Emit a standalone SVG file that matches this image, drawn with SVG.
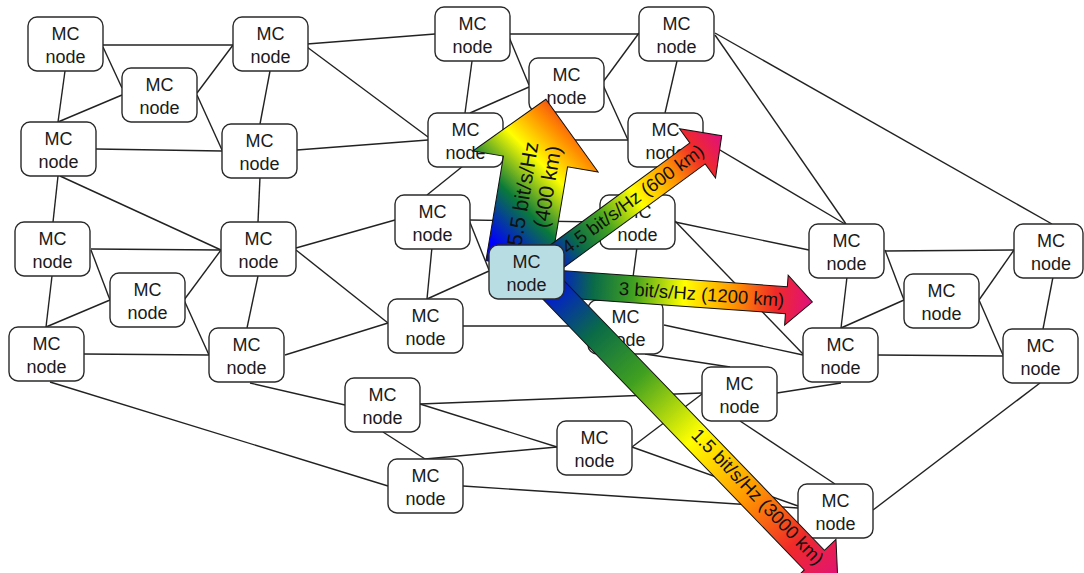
<svg xmlns="http://www.w3.org/2000/svg" width="1084" height="573" viewBox="0 0 1084 573">
<style>
.n{fill:#fff;stroke:#2a2a2a;stroke-width:1.4}
.q{fill:#b8dde3;stroke:#2a2a2a;stroke-width:1.4}
.t{font-family:"Liberation Sans",Arial,sans-serif;font-size:18px;fill:#1a1a1a;text-anchor:middle}
.e line{stroke:#222;stroke-width:1.4}
.a{stroke:#111;stroke-width:1}
.at{font-family:"Liberation Sans",Arial,sans-serif;font-size:18.5px;fill:#111;text-anchor:middle}
</style>
<defs>
<linearGradient id="gl" x1="0" y1="0" x2="1" y2="0">
<stop offset="0" stop-color="#0000ff"/>
<stop offset="0.18" stop-color="#0a6a48"/>
<stop offset="0.33" stop-color="#40a020"/>
<stop offset="0.52" stop-color="#ffff00"/>
<stop offset="0.7" stop-color="#ff9a00"/>
<stop offset="0.86" stop-color="#f02a28"/>
<stop offset="1" stop-color="#e0107e"/>
</linearGradient>
<linearGradient id="gu" gradientUnits="userSpaceOnUse" x1="29" y1="-43" x2="156" y2="47">
<stop offset="0" stop-color="#0000ff"/>
<stop offset="0.3" stop-color="#0a7a3a"/>
<stop offset="0.58" stop-color="#ffff00"/>
<stop offset="0.8" stop-color="#ff8a00"/>
<stop offset="1" stop-color="#e82020"/>
</linearGradient>
</defs>
<rect width="1084" height="573" fill="#fff"/>
<g id="connectors" class="e">
<line x1="102" y1="45" x2="233" y2="45"/>
<line x1="103" y1="47" x2="122" y2="88"/>
<line x1="65" y1="71" x2="58" y2="122"/>
<line x1="197" y1="93" x2="233" y2="45"/>
<line x1="197" y1="95" x2="222" y2="150"/>
<line x1="122" y1="95" x2="58" y2="122"/>
<line x1="96" y1="149" x2="222" y2="151"/>
<line x1="270" y1="71" x2="260" y2="124"/>
<line x1="307" y1="44" x2="435" y2="34"/>
<line x1="307" y1="47" x2="428" y2="137"/>
<line x1="297" y1="150" x2="428" y2="140"/>
<line x1="60" y1="176" x2="221" y2="250"/>
<line x1="58" y1="176" x2="53" y2="222"/>
<line x1="260" y1="177" x2="258" y2="222"/>
<line x1="91" y1="249" x2="221" y2="250"/>
<line x1="91" y1="250" x2="110" y2="300"/>
<line x1="52" y1="276" x2="46" y2="327"/>
<line x1="110" y1="300" x2="46" y2="327"/>
<line x1="184" y1="300" x2="221" y2="250"/>
<line x1="184" y1="300" x2="209" y2="355"/>
<line x1="258" y1="276" x2="247" y2="328"/>
<line x1="84" y1="354" x2="209" y2="355"/>
<line x1="296" y1="248" x2="395" y2="220"/>
<line x1="296" y1="250" x2="388" y2="323"/>
<line x1="285" y1="355" x2="388" y2="323"/>
<line x1="50" y1="382" x2="388" y2="486"/>
<line x1="250" y1="383" x2="345" y2="405"/>
<line x1="383" y1="432" x2="425" y2="459"/>
<line x1="420" y1="404" x2="557" y2="447"/>
<line x1="420" y1="404" x2="702" y2="393"/>
<line x1="425" y1="459" x2="557" y2="447"/>
<line x1="463" y1="486" x2="798" y2="508"/>
<line x1="632" y1="447" x2="798" y2="506"/>
<line x1="632" y1="447" x2="702" y2="394"/>
<line x1="740" y1="421" x2="835" y2="484"/>
<line x1="1040" y1="383" x2="873" y2="510"/>
<line x1="777" y1="393" x2="841" y2="383"/>
<line x1="645" y1="354" x2="730" y2="367"/>
<line x1="463" y1="326" x2="588" y2="326"/>
<line x1="664" y1="325" x2="803" y2="355"/>
<line x1="675" y1="221" x2="803" y2="354"/>
<line x1="675" y1="222" x2="809" y2="250"/>
<line x1="637" y1="247" x2="630" y2="300"/>
<line x1="469" y1="220" x2="600" y2="222"/>
<line x1="469" y1="220" x2="489" y2="270"/>
<line x1="432" y1="247" x2="427" y2="299"/>
<line x1="427" y1="299" x2="489" y2="271"/>
<line x1="463" y1="166" x2="427" y2="195"/>
<line x1="509" y1="34" x2="639" y2="34"/>
<line x1="509" y1="37" x2="529" y2="85"/>
<line x1="472" y1="61" x2="465" y2="113"/>
<line x1="529" y1="87" x2="470" y2="113"/>
<line x1="603" y1="82" x2="639" y2="33"/>
<line x1="603" y1="85" x2="628" y2="140"/>
<line x1="677" y1="61" x2="665" y2="113"/>
<line x1="503" y1="140" x2="628" y2="140"/>
<line x1="715" y1="35" x2="846" y2="224"/>
<line x1="715" y1="33" x2="1052" y2="224"/>
<line x1="703" y1="140" x2="845" y2="224"/>
<line x1="885" y1="250" x2="904" y2="300"/>
<line x1="885" y1="251" x2="1014" y2="250"/>
<line x1="847" y1="277" x2="841" y2="328"/>
<line x1="904" y1="300" x2="841" y2="328"/>
<line x1="979" y1="300" x2="1014" y2="250"/>
<line x1="979" y1="300" x2="1003" y2="355"/>
<line x1="1053" y1="277" x2="1043" y2="329"/>
<line x1="878" y1="355" x2="1003" y2="356"/>
</g>
<g id="node-A"><rect class="n" x="28" y="17" width="75" height="54" rx="9"/><text class="t" x="65.5" y="39.5">MC<tspan x="65.5" dy="23.2">node</tspan></text></g>
<g id="node-B"><rect class="n" x="122" y="68" width="75" height="54" rx="9"/><text class="t" x="159.5" y="90.5">MC<tspan x="159.5" dy="23.2">node</tspan></text></g>
<g id="node-C"><rect class="n" x="233" y="17" width="75" height="54" rx="9"/><text class="t" x="270.5" y="39.5">MC<tspan x="270.5" dy="23.2">node</tspan></text></g>
<g id="node-D"><rect class="n" x="21" y="122" width="75" height="54" rx="9"/><text class="t" x="58.5" y="144.5">MC<tspan x="58.5" dy="23.2">node</tspan></text></g>
<g id="node-E"><rect class="n" x="222" y="124" width="75" height="54" rx="9"/><text class="t" x="259.5" y="146.5">MC<tspan x="259.5" dy="23.2">node</tspan></text></g>
<g id="node-F"><rect class="n" x="435" y="7" width="75" height="54" rx="9"/><text class="t" x="472.5" y="29.5">MC<tspan x="472.5" dy="23.2">node</tspan></text></g>
<g id="node-G"><rect class="n" x="529" y="58" width="75" height="54" rx="9"/><text class="t" x="566.5" y="80.5">MC<tspan x="566.5" dy="23.2">node</tspan></text></g>
<g id="node-H"><rect class="n" x="639" y="7" width="75" height="54" rx="9"/><text class="t" x="676.5" y="29.5">MC<tspan x="676.5" dy="23.2">node</tspan></text></g>
<g id="node-I"><rect class="n" x="428" y="113" width="75" height="54" rx="9"/><text class="t" x="465.5" y="135.5">MC<tspan x="465.5" dy="23.2">node</tspan></text></g>
<g id="node-J"><rect class="n" x="628" y="113" width="75" height="54" rx="9"/><text class="t" x="665.5" y="135.5">MC<tspan x="665.5" dy="23.2">node</tspan></text></g>
<g id="node-K"><rect class="n" x="15" y="222" width="75" height="54" rx="9"/><text class="t" x="52.5" y="244.5">MC<tspan x="52.5" dy="23.2">node</tspan></text></g>
<g id="node-L"><rect class="n" x="110" y="273" width="75" height="54" rx="9"/><text class="t" x="147.5" y="295.5">MC<tspan x="147.5" dy="23.2">node</tspan></text></g>
<g id="node-M"><rect class="n" x="221" y="222" width="75" height="54" rx="9"/><text class="t" x="258.5" y="244.5">MC<tspan x="258.5" dy="23.2">node</tspan></text></g>
<g id="node-N"><rect class="n" x="9" y="327" width="75" height="54" rx="9"/><text class="t" x="46.5" y="349.5">MC<tspan x="46.5" dy="23.2">node</tspan></text></g>
<g id="node-O"><rect class="n" x="209" y="328" width="75" height="54" rx="9"/><text class="t" x="246.5" y="350.5">MC<tspan x="246.5" dy="23.2">node</tspan></text></g>
<g id="node-P"><rect class="n" x="395" y="195" width="75" height="54" rx="9"/><text class="t" x="432.5" y="217.5">MC<tspan x="432.5" dy="23.2">node</tspan></text></g>
<g id="node-R"><rect class="n" x="388" y="299" width="75" height="54" rx="9"/><text class="t" x="425.5" y="321.5">MC<tspan x="425.5" dy="23.2">node</tspan></text></g>
<g id="node-S"><rect class="n" x="600" y="195" width="75" height="54" rx="9"/><text class="t" x="637.5" y="217.5">MC<tspan x="637.5" dy="23.2">node</tspan></text></g>
<g id="node-T"><rect class="n" x="588" y="300" width="75" height="54" rx="9"/><text class="t" x="625.5" y="322.5">MC<tspan x="625.5" dy="23.2">node</tspan></text></g>
<g id="node-U"><rect class="n" x="809" y="224" width="75" height="54" rx="9"/><text class="t" x="846.5" y="246.5">MC<tspan x="846.5" dy="23.2">node</tspan></text></g>
<g id="node-V"><rect class="n" x="904" y="274" width="75" height="54" rx="9"/><text class="t" x="941.5" y="296.5">MC<tspan x="941.5" dy="23.2">node</tspan></text></g>
<g id="node-W"><rect class="n" x="1014" y="224" width="69" height="54" rx="9"/><text class="t" x="1051" y="246.5">MC<tspan x="1051" dy="23.2">node</tspan></text></g>
<g id="node-X"><rect class="n" x="803" y="328" width="75" height="54" rx="9"/><text class="t" x="840.5" y="350.5">MC<tspan x="840.5" dy="23.2">node</tspan></text></g>
<g id="node-Y"><rect class="n" x="1003" y="329" width="75" height="54" rx="9"/><text class="t" x="1040.5" y="351.5">MC<tspan x="1040.5" dy="23.2">node</tspan></text></g>
<g id="node-Z1"><rect class="n" x="345" y="378" width="75" height="54" rx="9"/><text class="t" x="382.5" y="400.5">MC<tspan x="382.5" dy="23.2">node</tspan></text></g>
<g id="node-Z2"><rect class="n" x="557" y="421" width="75" height="54" rx="9"/><text class="t" x="594.5" y="443.5">MC<tspan x="594.5" dy="23.2">node</tspan></text></g>
<g id="node-Z3"><rect class="n" x="388" y="459" width="75" height="54" rx="9"/><text class="t" x="425.5" y="481.5">MC<tspan x="425.5" dy="23.2">node</tspan></text></g>
<g id="node-Z4"><rect class="n" x="702" y="367" width="75" height="54" rx="9"/><text class="t" x="739.5" y="389.5">MC<tspan x="739.5" dy="23.2">node</tspan></text></g>
<g id="node-Z5"><rect class="n" x="798" y="484" width="75" height="54" rx="9"/><text class="t" x="835.5" y="506.5">MC<tspan x="835.5" dy="23.2">node</tspan></text></g>
<g id="arrows">
<g id="arrow-400km" transform="translate(518,266) rotate(-80.5)">
<polygon class="a" fill="url(#gu)" points="0,-32.5 106,-32.5 106,-63.5 169,0 106,63.5 106,32.5 0,32.5"/>
<text class="at" style="font-size:21px" x="72" y="0">5.5 bit/s/Hz</text>
<text class="at" style="font-size:21px" x="83" y="23">(400 km)</text>
</g>
<g id="arrow-600km" transform="translate(545,265) rotate(-36.2)">
<polygon class="a" fill="url(#gl)" points="0,-13 189,-13 189,-30.5 219,0 189,30.5 189,13 0,13"/>
<text class="at" x="110" y="5">4.5 bit/s/Hz (600 km)</text>
</g>
<g id="arrow-1200km" transform="translate(545,283) rotate(4.07)">
<polygon class="a" fill="url(#gl)" points="0,-13.5 242,-13.5 242,-25 268,0 242,25 242,13.5 0,13.5"/>
<text class="at" x="157" y="6.5">3 bit/s/Hz (1200 km)</text>
</g>
<g id="arrow-3000km" transform="translate(540,276) rotate(46)">
<polygon class="a" fill="url(#gl)" points="0,-14 395,-14 395,-30 429,0 395,30 395,14 0,14"/>
<text class="at" x="310" y="3">1.5 bit/s/Hz (3000 km)</text>
</g>
</g>
<g id="node-Q"><rect class="q" x="489" y="245" width="75" height="54" rx="9"/><text class="t" x="526.5" y="267.5">MC<tspan x="526.5" dy="23.2">node</tspan></text></g>
</svg>
